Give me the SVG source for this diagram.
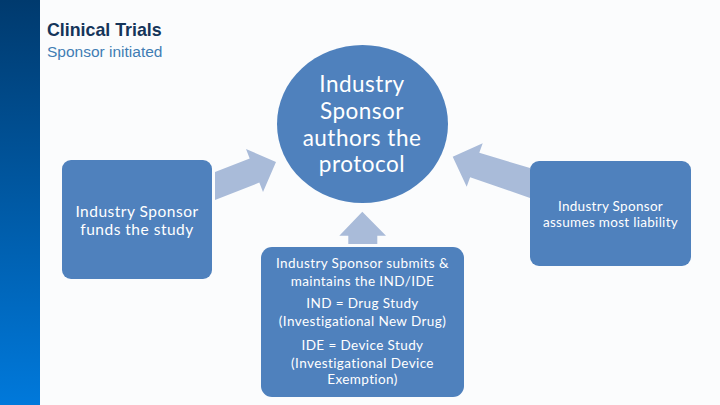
<svg xmlns="http://www.w3.org/2000/svg" width="720" height="405" viewBox="0 0 720 405">
<defs>
<linearGradient id="bar" x1="0" y1="0" x2="0" y2="1">
<stop offset="0" stop-color="#003a6e"/>
<stop offset="1" stop-color="#0079db"/>
</linearGradient>
<style>
.node{fill:#4f81bd}
.arrow{fill:#a9bbd9}
.t{font-family:Lato,"Open Sans","Liberation Sans",sans-serif;fill:#ffffff;text-anchor:middle}
.title{font-family:"Liberation Sans",Arial,sans-serif;font-weight:bold;font-size:17.8px;fill:#15355a}
.sub{font-family:"Liberation Sans",Arial,sans-serif;font-size:15.5px;fill:#3f7db4}
</style>
</defs>
<rect x="0" y="0" width="720" height="405" fill="#fbfcfd"/>
<rect x="0" y="0" width="40" height="405" fill="url(#bar)"/>
<text class="title" x="47" y="36">Clinical Trials</text>
<text class="sub" x="47" y="57">Sponsor initiated</text>
<g id="connectors">
<polygon class="arrow" points="215,172.1 249.7,158.4 246,149 276,162 263,192 259.3,182.6 215,200.1"/>
<polygon class="arrow" points="530,168 479.3,152.8 482.7,143.3 452.7,156.7 466.7,186.7 470.1,177.2 530,198"/>
<polygon class="arrow" points="362.3,211.7 386,235.7 377.3,235.7 377.3,244 348.3,244 348.3,235.7 339.3,235.7"/>
</g>
<g id="protocol">
<ellipse class="node" cx="362.5" cy="124" rx="85.5" ry="79"/>
<text class="t" font-size="22.5" letter-spacing="0.5" x="362" y="92">Industry</text>
<text class="t" font-size="22.5" letter-spacing="0.5" x="362" y="119">Sponsor</text>
<text class="t" font-size="22.5" letter-spacing="0.5" x="362" y="146">authors the</text>
<text class="t" font-size="22.5" letter-spacing="0.5" x="362" y="172">protocol</text>
</g>
<g id="funds">
<rect class="node" x="62" y="160" width="150" height="119" rx="9"/>
<text class="t" font-size="15.5" letter-spacing="0.5" x="137" y="217">Industry Sponsor</text>
<text class="t" font-size="15.5" letter-spacing="0.5" x="137" y="235">funds the study</text>
</g>
<g id="liability">
<rect class="node" x="530" y="161" width="161" height="105" rx="9"/>
<text class="t" font-size="13.5" letter-spacing="0.3" x="610.5" y="211">Industry Sponsor</text>
<text class="t" font-size="13.5" letter-spacing="0.3" x="610.5" y="227">assumes most liability</text>
</g>
<g id="ind">
<rect class="node" x="261" y="247" width="203" height="150" rx="11"/>
<text class="t" font-size="13.5" letter-spacing="0.4" x="362.5" y="268">Industry Sponsor submits &amp;</text>
<text class="t" font-size="13.5" letter-spacing="0.4" x="362.5" y="285.5">maintains the IND/IDE</text>
<text class="t" font-size="13.5" letter-spacing="0.4" x="362.5" y="308">IND = Drug Study</text>
<text class="t" font-size="13.5" letter-spacing="0.4" x="362.5" y="326">(Investigational New Drug)</text>
<text class="t" font-size="13.5" letter-spacing="0.4" x="362.5" y="350">IDE = Device Study</text>
<text class="t" font-size="13.5" letter-spacing="0.4" x="362.5" y="367.5">(Investigational Device</text>
<text class="t" font-size="13.5" letter-spacing="0.4" x="362.5" y="384">Exemption)</text>
</g>
</svg>
